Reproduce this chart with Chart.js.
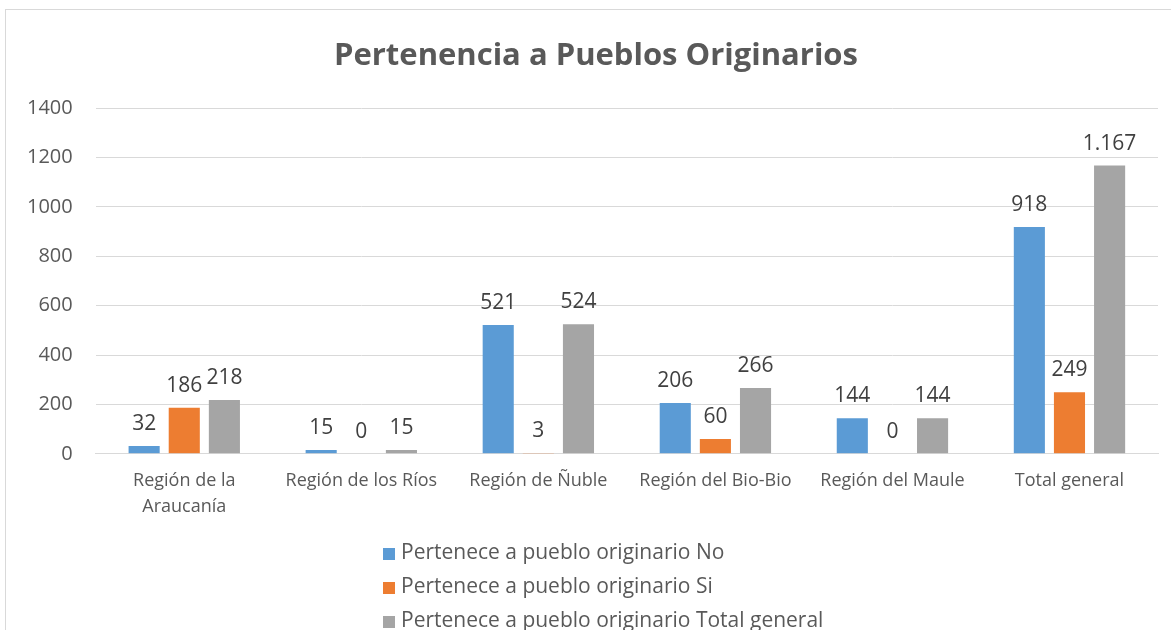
<!DOCTYPE html>
<html>
<head>
<meta charset="utf-8">
<script src="https://cdn.jsdelivr.net/npm/chart.js@4.4.1/dist/chart.umd.min.js"></script>
<style>
  html, body { margin: 0; padding: 0; background: #fff; overflow: hidden; }
  #wrap { position: relative; width: 1171px; height: 630px; }
  #frame { position: absolute; left: 5px; top: 9px; width: 1200px; height: 700px; border: 1px solid #d9d9d9; box-sizing: border-box; }
  #chart { position: absolute; left: 0; top: 0; }
  #title { position: absolute; left: 0; width: 1192px; top: 33px; height: 40px; line-height: 40px; text-align: center;
           font-family: "Open Sans", sans-serif; font-weight: bold; font-size: 31px; color: #595959; white-space: nowrap; }
  #legend { position: absolute; left: 383px; top: 534px; font-family: "Open Sans", sans-serif; font-size: 21px; color: #595959; }
  #legend div { height: 34px; line-height: 34px; white-space: nowrap; }
  #legend span { display: inline-block; width: 12px; height: 12px; margin-right: 6px; vertical-align: -1px; }
</style>
</head>
<body>
<div id="wrap">
  <div id="frame"></div>
  <canvas id="chart" width="1171" height="630"></canvas>
  <div id="title">Pertenencia a Pueblos Originarios</div>
  <div id="legend"></div>
</div>
<script>
const regiones = [["Región de la", "Araucanía"], "Región de los Ríos", "Región de Ñuble", "Región del Bio-Bio", "Región del Maule", "Total general"];
const perteneceNo = [32, 15, 521, 206, 144, 918];
const perteneceSi = [186, 0, 3, 60, 0, 249];
const perteneceTotal = [218, 15, 524, 266, 144, 1167];
const seriesNames = ["Pertenece a pueblo originario No", "Pertenece a pueblo originario Si", "Pertenece a pueblo originario Total general"];
const seriesColors = ["#5b9bd5", "#ed7d31", "#a5a5a5"];

function formatNum(v) {
  return String(v).replace(/\B(?=(\d{3})+(?!\d))/g, ".");
}

const barLabels = {
  id: "barLabels",
  afterDatasetsDraw(chart) {
    const ctx = chart.ctx;
    ctx.save();
    ctx.font = "21px 'Open Sans', sans-serif";
    ctx.fillStyle = "#404040";
    ctx.textAlign = "center";
    ctx.textBaseline = "alphabetic";
    chart.data.datasets.forEach((ds, i) => {
      chart.getDatasetMeta(i).data.forEach((bar, j) => {
        ctx.fillText(formatNum(ds.data[j]), bar.x, bar.y - 16);
      });
    });
    ctx.restore();
  }
};

const datasets = [perteneceNo, perteneceSi, perteneceTotal].map((d, i) => ({
  label: seriesNames[i],
  data: d,
  backgroundColor: seriesColors[i],
  categoryPercentage: 0.68,
  barPercentage: 0.775
}));

new Chart(document.getElementById("chart"), {
  type: "bar",
  data: { labels: regiones, datasets: datasets },
  options: {
    responsive: false,
    animation: false,
    layout: { padding: { left: 4, right: 13, top: 108, bottom: 96 } },
    plugins: {
      legend: { display: false },
      tooltip: { enabled: false },
      title: { display: false }
    },
    scales: {
      x: {
        grid: { display: false, drawTicks: false },
        border: { display: true, color: "#d9d9d9" },
        ticks: { color: "#595959", font: { family: "'Open Sans', sans-serif", size: 18, lineHeight: 1.45 }, padding: 14, maxRotation: 0, autoSkip: false }
      },
      y: {
        min: 0,
        max: 1400,
        ticks: { stepSize: 200, color: "#595959", font: { family: "'Open Sans', sans-serif", size: 20 }, padding: 23, callback: v => String(v) },
        grid: { color: "#d9d9d9", drawTicks: false },
        border: { display: false }
      }
    }
  },
  plugins: [barLabels]
});

const legend = document.getElementById("legend");
seriesNames.forEach((name, i) => {
  const row = document.createElement("div");
  row.innerHTML = '<span style="background:' + seriesColors[i] + '"></span>' + name;
  legend.appendChild(row);
});
</script>
</body>
</html>
